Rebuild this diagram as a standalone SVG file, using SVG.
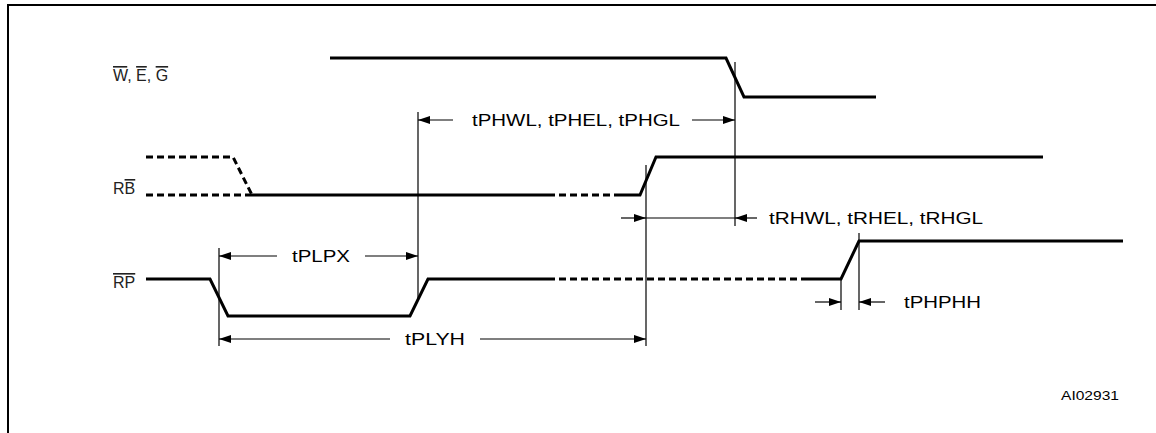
<svg xmlns="http://www.w3.org/2000/svg" width="1156" height="433" viewBox="0 0 1156 433">
<defs>
<marker id="ah" viewBox="0 0 12 8" refX="12" refY="4" markerWidth="12" markerHeight="8" markerUnits="userSpaceOnUse" orient="auto">
<path d="M0,0 L12,4 L0,8 Z" fill="#000"/>
</marker>
</defs>
<style>
.frame{fill:none;stroke:#000;stroke-width:2}
.sig{fill:none;stroke:#000;stroke-width:3;stroke-linejoin:miter}
.dash{fill:none;stroke:#000;stroke-width:3;stroke-dasharray:7 4}
.dim{fill:none;stroke:#000;stroke-width:1.2}
.arr{fill:none;stroke:#000;stroke-width:1.2;marker-end:url(#ah)}
text{font-family:"Liberation Sans",Arial,sans-serif;font-size:16px;fill:#000}
.lbl{font-size:16px;fill:#222}
.ov{text-decoration:overline}
</style>
<rect width="1156" height="433" fill="#fff"/>
<path class="frame" d="M8,433 L8,5 L1156,5"/>

<g id="labels">
<text class="lbl" x="113" y="81"><tspan class="ov">W</tspan>, <tspan class="ov">E</tspan>, <tspan class="ov">G</tspan></text>
<text class="lbl" x="113" y="194">R<tspan class="ov">B</tspan></text>
<text class="lbl" x="113" y="288"><tspan class="ov">RP</tspan></text>
</g>

<g id="signal-WEG">
<path class="sig" d="M330,58 L726,58 L744,97 L876,97"/>
</g>

<g id="signal-RB">
<path class="dash" d="M146,157 L233,157 L252,195"/>
<path class="dash" d="M146,195 L252,195"/>
<path class="sig" d="M252,195 L548,195"/>
<path class="dash" d="M548,195 L620,195"/>
<path class="sig" d="M620,195 L640,195 L656,157 L1043,157"/>
</g>

<g id="signal-RP">
<path class="sig" d="M146,279 L210,279 L228,316 L410,316 L428,279 L548,279"/>
<path class="dash" d="M548,279 L803,279"/>
<path class="sig" d="M803,279 L841,279 L859,241 L1123,241"/>
</g>

<g id="connectors">
<line class="dim" x1="219" y1="248" x2="219" y2="346"/>
<line class="dim" x1="418" y1="112" x2="418" y2="298"/>
<line class="dim" x1="646" y1="165" x2="646" y2="346"/>
<line class="dim" x1="735" y1="62" x2="735" y2="226"/>
<line class="dim" x1="841" y1="279" x2="841" y2="310"/>
<line class="dim" x1="859" y1="233" x2="859" y2="310"/>

<line class="arr" x1="453" y1="120" x2="418" y2="120"/>
<line class="arr" x1="692" y1="120" x2="735" y2="120"/>

<line class="arr" x1="277" y1="256" x2="219" y2="256"/>
<line class="arr" x1="365" y1="256" x2="418" y2="256"/>

<line class="arr" x1="390" y1="339" x2="219" y2="339"/>
<line class="arr" x1="480" y1="339" x2="646" y2="339"/>

<line class="arr" x1="621" y1="218" x2="646" y2="218"/>
<line class="dim" x1="646" y1="218" x2="735" y2="218"/>
<line class="arr" x1="757" y1="218" x2="735" y2="218"/>

<line class="arr" x1="815" y1="302" x2="841" y2="302"/>
<line class="arr" x1="885" y1="302" x2="859" y2="302"/>
</g>

<g id="timing-labels">
<text x="472" y="126" textLength="208" lengthAdjust="spacingAndGlyphs">tPHWL, tPHEL, tPHGL</text>
<text x="292" y="262" textLength="58" lengthAdjust="spacingAndGlyphs">tPLPX</text>
<text x="405" y="345" textLength="60" lengthAdjust="spacingAndGlyphs">tPLYH</text>
<text x="769" y="224" textLength="214" lengthAdjust="spacingAndGlyphs">tRHWL, tRHEL, tRHGL</text>
<text x="904" y="308" textLength="77" lengthAdjust="spacingAndGlyphs">tPHPHH</text>
<text x="1061" y="400" style="font-size:13px" textLength="58" lengthAdjust="spacingAndGlyphs">AI02931</text>
</g>
</svg>
